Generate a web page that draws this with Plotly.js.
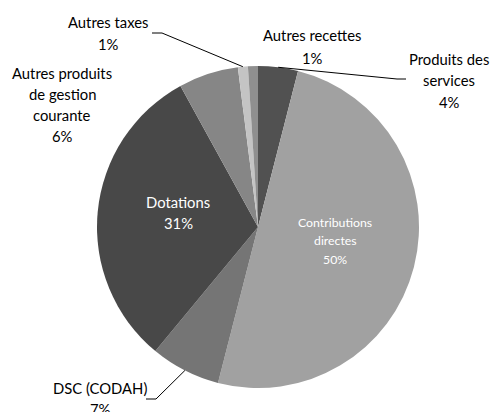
<!DOCTYPE html>
<html>
<head>
<meta charset="utf-8">
<script src="https://cdn.plot.ly/plotly-3.0.1.min.js"></script>
<style>html,body{margin:0;padding:0;background:#fff;}#chart{width:491px;height:412px;}</style>
</head>
<body>
<div id="chart"></div>
<script>
// ---- data ----
var categories = ["Produits des services", "Contributions directes", "DSC (CODAH)", "Dotations",
                  "Autres produits de gestion courante", "Autres taxes", "Autres recettes"];
var values = [4, 50, 7, 31, 6, 1, 1];
var labelLines = [
  ["Produits des", "services"],
  ["Contributions", "directes"],
  ["DSC (CODAH)"],
  ["Dotations"],
  ["Autres produits", "de gestion", "courante"],
  ["Autres taxes"],
  ["Autres recettes"]
];
var colors = ["#515151", "#a1a1a1", "#757575", "#484848", "#868686", "#c4c4c4", "#8f8f8f"];

// ---- layout constants (pixels) ----
var W = 491, H = 412;
var CX = 258, CY = 227, R = 161;
function px(x){ return x / W; }
function py(y){ return 1 - y / H; }

var total = values.reduce(function(a,b){return a+b;}, 0);
var pct = values.map(function(v){ return Math.round(v / total * 100) + "%"; });
var mids = [];
(function(){ var c = 0; values.forEach(function(v){ mids.push((c + v/2) / total * 360); c += v; }); })();
function edgePoint(i){
  var a = mids[i] * Math.PI / 180;
  return [CX + R * Math.sin(a), CY - R * Math.cos(a)];
}

// label placements: [center x, first line y, line spacing, font size, color]
var place = [
  [449, 59, 21.5, 14.8, "#000"],
  [335, 222, 18.5, 12.3, "#fff"],
  [100, 388, 20.5, 14.8, "#000"],
  [178, 202, 21, 14.8, "#fff"],
  [62, 73, 21, 14.8, "#000"],
  [108, 22, 21.5, 14.8, "#000"],
  [312, 35, 23, 14.8, "#000"]
];

var annotations = [];
categories.forEach(function(c, i){
  var lines = labelLines[i].concat([pct[i]]);
  var p = place[i];
  lines.forEach(function(t, k){
    annotations.push({
      xref: "paper", yref: "paper",
      x: px(p[0]), y: py(p[1] + k * p[2]),
      xanchor: "center", yanchor: "middle",
      text: t, showarrow: false,
      font: {family: "Lato, 'Open Sans', sans-serif", size: p[3], color: p[4]}
    });
  });
});

// leader lines: [slice index, elbow x, elbow y, end x, end y]
var leaders = [
  [0, 397, 79, 406, 79],
  [5, 162, 33, 152, 33],
  [2, 156, 399, 146, 399]
];
var shapes = [];
leaders.forEach(function(l){
  var s = edgePoint(l[0]);
  var path = "M" + px(s[0]) + "," + py(s[1]) + " L" + px(l[1]) + "," + py(l[2]) + " L" + px(l[3]) + "," + py(l[4]);
  shapes.push({type: "path", xref: "paper", yref: "paper", path: path,
               line: {color: "#000", width: 1}});
});

var trace = {
  type: "pie",
  labels: categories,
  values: values,
  sort: false,
  direction: "clockwise",
  rotation: 0,
  textinfo: "none",
  hoverinfo: "label+percent",
  marker: {colors: colors, line: {width: 0}},
  domain: {x: [px(CX - R), px(CX + R)], y: [py(CY + R), py(CY - R)]},
  showlegend: false
};

Plotly.newPlot("chart", [trace], {
  width: W, height: H,
  margin: {l: 0, r: 0, t: 0, b: 0},
  paper_bgcolor: "#fff",
  showlegend: false,
  annotations: annotations,
  shapes: shapes
}, {displayModeBar: false, staticPlot: true});
</script>
</body>
</html>
